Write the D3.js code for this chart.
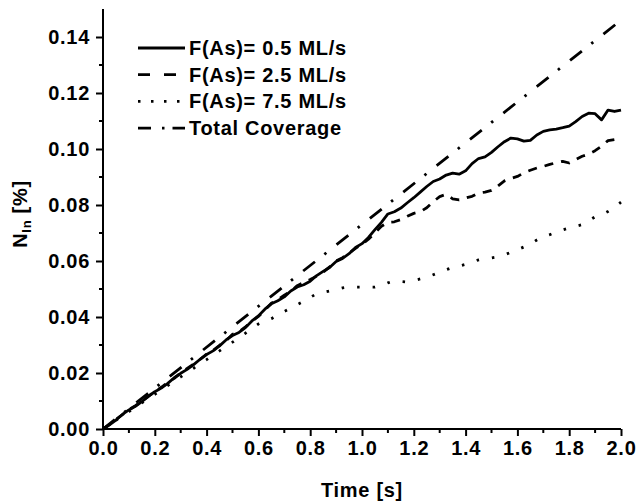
<!DOCTYPE html>
<html>
<head>
<meta charset="utf-8">
<script src="https://cdn.jsdelivr.net/npm/d3@7"></script>
<style>
  body { margin: 0; background: #fff; }
  svg text { font-family: "Liberation Sans", Arial, sans-serif; font-weight: bold; fill: #000; letter-spacing: 0.7px; }
</style>
</head>
<body>
<div id="chart"></div>
<script>
// time grid (s)
var times = [0.000,0.025,0.050,0.075,0.100,0.125,0.150,0.175,0.200,0.225,0.250,0.275,0.300,0.325,0.350,0.375,
  0.400,0.425,0.450,0.475,0.500,0.525,0.550,0.575,0.600,0.625,0.650,0.675,0.700,0.725,0.750,0.775,
  0.800,0.825,0.850,0.875,0.900,0.925,0.950,0.975,1.000,1.025,1.050,1.075,1.100,1.125,1.150,1.175,
  1.200,1.225,1.250,1.275,1.300,1.325,1.350,1.375,1.400,1.425,1.450,1.475,1.500,1.525,1.550,1.575,
  1.600,1.625,1.650,1.675,1.700,1.725,1.750,1.775,1.800,1.825,1.850,1.875,1.900,1.925,1.950,1.975,2.000];

// F(As) = 0.5 ML/s
var flux05 = [0,0.0015,0.0032,0.0052,0.0068,0.0081,0.0098,0.0117,0.0133,0.0146,0.0163,0.0183,0.0199,0.0213,0.0230,0.0249,
  0.0266,0.0279,0.0297,0.0318,0.0334,0.0345,0.0362,0.0386,0.0404,0.0428,0.0447,0.0458,0.0472,0.0493,0.0507,0.0515,
  0.0528,0.0548,0.0563,0.0577,0.0598,0.0609,0.0626,0.0648,0.0662,0.0684,0.0712,0.0738,0.0768,0.0776,0.0789,0.0808,
  0.0826,0.0846,0.0866,0.0884,0.0893,0.0907,0.0914,0.0910,0.0922,0.0948,0.0966,0.0972,0.0988,0.1008,0.1026,0.1039,
  0.1036,0.1028,0.1031,0.1050,0.1063,0.1068,0.1071,0.1076,0.1082,0.1098,0.1116,0.1128,0.1126,0.1104,0.1139,0.1134,0.1139];

// F(As) = 2.5 ML/s
var flux25 = [0,0.0016,0.0034,0.0051,0.0069,0.0083,0.0099,0.0116,0.0134,0.0149,0.0166,0.0181,0.0200,0.0216,0.0232,0.0249,
  0.0268,0.0281,0.0299,0.0315,0.0338,0.0347,0.0365,0.0384,0.0402,0.0425,0.0449,0.0462,0.0478,0.0492,0.0512,0.0523,
  0.0534,0.0546,0.0560,0.0579,0.0600,0.0612,0.0628,0.0645,0.0660,0.0678,0.0700,0.0724,0.0738,0.0740,0.0748,0.0760,
  0.0770,0.0776,0.0790,0.0812,0.0830,0.0838,0.0822,0.0818,0.0825,0.0831,0.0843,0.0846,0.0852,0.0868,0.0886,0.0895,
  0.0902,0.0915,0.0924,0.0932,0.0938,0.0945,0.0951,0.0956,0.0950,0.0962,0.0974,0.0982,0.0994,0.1010,0.1030,0.1034,0.1030];

// F(As) = 7.5 ML/s
var flux75 = [0,0.0016,0.0031,0.0047,0.0062,0.0078,0.0093,0.0109,0.0124,0.0140,0.0155,0.0171,0.0186,0.0202,0.0217,0.0233,
  0.0248,0.0264,0.0279,0.0295,0.0310,0.0326,0.0342,0.0359,0.0375,0.0386,0.0394,0.0407,0.0420,0.0432,0.0444,0.0456,
  0.0470,0.0483,0.0488,0.0493,0.0498,0.0504,0.0507,0.0507,0.0507,0.0507,0.0507,0.0512,0.0522,0.0529,0.0527,0.0525,
  0.0530,0.0536,0.0542,0.0551,0.0560,0.0569,0.0577,0.0582,0.0588,0.0596,0.0604,0.0609,0.0611,0.0615,0.0622,0.0631,
  0.0640,0.0650,0.0660,0.0675,0.0687,0.0694,0.0703,0.0711,0.0718,0.0724,0.0730,0.0744,0.0758,0.0765,0.0777,0.0792,0.0810];

// total coverage (straight line)
var coverageTimes = [0, 2.0];
var coverageVals = [0, 0.146];

var legendLabels = ["F(As)= 0.5 ML/s", "F(As)= 2.5 ML/s", "F(As)= 7.5 ML/s", "Total Coverage"];
var xTicks = [0, 0.2, 0.4, 0.6, 0.8, 1.0, 1.2, 1.4, 1.6, 1.8, 2.0];
var yTicks = [0, 0.02, 0.04, 0.06, 0.08, 0.10, 0.12, 0.14];

var width = 636, height = 502;

var svg = d3.select("#chart").append("svg")
  .attr("width", width)
  .attr("height", height);

var x = d3.scaleLinear().domain([0, 2.0]).range([103, 621]);
var y = d3.scaleLinear().domain([0, 0.15]).range([429, 9]);

// axes
var xAxis = d3.axisBottom(x).tickValues(xTicks).tickSize(7).tickPadding(5).tickFormat(d3.format(".1f"));
var yAxis = d3.axisLeft(y).tickValues(yTicks).tickSize(7).tickPadding(6).tickFormat(d3.format(".2f"));

var gx = svg.append("g").attr("transform", "translate(0," + y(0) + ")").call(xAxis);
var gy = svg.append("g").attr("transform", "translate(" + x(0) + ",0)").call(yAxis);

// minor ticks
gx.selectAll(".minor").data(d3.range(0.1, 2.0, 0.2)).enter().append("line")
  .attr("class", "minor")
  .attr("x1", d => x(d)).attr("x2", d => x(d))
  .attr("y1", 0).attr("y2", 4)
  .attr("stroke", "#000").attr("stroke-width", 2);
gy.selectAll(".minor").data(d3.range(0.01, 0.15, 0.02)).enter().append("line")
  .attr("class", "minor")
  .attr("y1", d => y(d)).attr("y2", d => y(d))
  .attr("x1", 0).attr("x2", -4)
  .attr("stroke", "#000").attr("stroke-width", 2);

[gx, gy].forEach(function(g) {
  g.select(".domain").attr("stroke", "#000").attr("stroke-width", 2);
  g.selectAll(".tick line").attr("stroke", "#000").attr("stroke-width", 2);
  g.selectAll(".tick text").attr("font-size", "20px")
    .attr("font-family", "'Liberation Sans', Arial, sans-serif").attr("font-weight", "bold");
});
gx.select(".domain").attr("d", "M" + x(0) + ",0H" + x(2.0));
gy.select(".domain").attr("d", "M0," + y(0) + "V" + y(0.15));

// axis titles
svg.append("text")
  .attr("x", (x(0) + x(2.0)) / 2)
  .attr("y", 497)
  .attr("text-anchor", "middle")
  .attr("font-size", "20px")
  .text("Time [s]");

var yt = svg.append("text")
  .attr("transform", "translate(27,214) rotate(-90)")
  .attr("text-anchor", "middle")
  .attr("font-size", "20px");
yt.append("tspan").text("N");
yt.append("tspan").attr("font-size", "13px").attr("dy", 4).text("In");
yt.append("tspan").attr("dy", -4).text(" [%]");

// series
var line = d3.line()
  .x(d => x(d[0]))
  .y(d => y(d[1]));

var series = [
  { vals: flux05, dash: null },
  { vals: flux25, dash: "9,8" },
  { vals: flux75, dash: "2.5,13" }
];

series.forEach(function(s) {
  svg.append("path")
    .datum(d3.zip(times, s.vals))
    .attr("d", line)
    .attr("fill", "none")
    .attr("stroke", "#000")
    .attr("stroke-width", 2.8)
    .attr("stroke-linejoin", "round")
    .attr("stroke-dasharray", s.dash);
});

svg.append("path")
  .datum(d3.zip(coverageTimes, coverageVals))
  .attr("d", line)
  .attr("fill", "none")
  .attr("stroke", "#000")
  .attr("stroke-width", 2.8)
  .attr("stroke-dasharray", "15,12,2.5,13");

// legend
var legendDashes = [null, "12,14", "2.5,10.5", "13,11,2.5,8"];
var legend = svg.append("g");
legendLabels.forEach(function(lab, i) {
  var ly = 48 + i * 26.7;
  legend.append("line")
    .attr("x1", 138).attr("x2", 185)
    .attr("y1", ly).attr("y2", ly)
    .attr("stroke", "#000")
    .attr("stroke-width", 2.8)
    .attr("stroke-dasharray", legendDashes[i]);
  legend.append("text")
    .attr("x", 189)
    .attr("y", ly + 7)
    .attr("font-size", "20px")
    .text(lab);
});
</script>
</body>
</html>
